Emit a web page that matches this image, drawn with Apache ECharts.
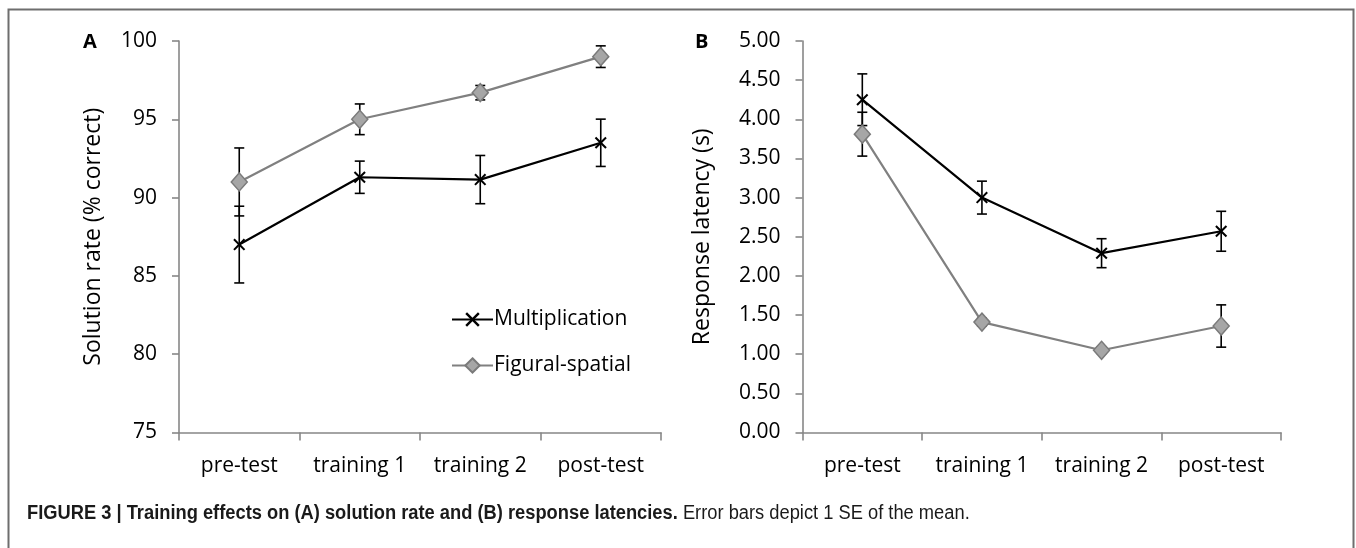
<!DOCTYPE html>
<html>
<head>
<meta charset="utf-8">
<script src="https://cdn.jsdelivr.net/npm/echarts@6/dist/echarts.min.js"></script>
<style>
html,body{margin:0;padding:0;background:#fff;}
#chart{width:1356px;height:548px;}
</style>
</head>
<body>
<div id="chart"></div>
<script>
// ---- data ----
var categories = ['pre-test', 'training 1', 'training 2', 'post-test'];
var seriesNames = ['Multiplication', 'Figural-spatial'];

// Panel A: solution rate (% correct)
var multRate   = [87.0, 91.3, 91.15, 93.5];
var multRateSE = [2.45, 1.03, 1.54, 1.51];
var figRate    = [91.0, 95.0, 96.7, 99.0];
var figRateSE  = [2.17, 0.98, 0.46, 0.69];

// Panel B: response latency (s)
var multLat    = [4.25, 3.0, 2.29, 2.57];
var multLatSE  = [0.33, 0.21, 0.185, 0.255];
var figLat     = [3.81, 1.41, 1.05, 1.36];
var figLatSE   = [0.28, 0.05, 0.04, 0.27];

var captionBold = 'FIGURE 3 | Training effects on (A) solution rate and (B) response latencies.';
var captionRest = ' Error bars depict 1 SE of the mean.';

// ---- helpers ----
function errData(vals, se) {
  return vals.map(function (v, i) { return [i, v - se[i], v + se[i]]; });
}
function errRender(params, api) {
  var lo = api.coord([api.value(0), api.value(1)]);
  var hi = api.coord([api.value(0), api.value(2)]);
  var w = 5;
  var st = { stroke: '#000', lineWidth: 1.6 };
  return {
    type: 'group',
    children: [
      { type: 'line', shape: { x1: lo[0], y1: lo[1], x2: hi[0], y2: hi[1] }, style: st },
      { type: 'line', shape: { x1: lo[0] - w, y1: lo[1], x2: lo[0] + w, y2: lo[1] }, style: st },
      { type: 'line', shape: { x1: hi[0] - w, y1: hi[1], x2: hi[0] + w, y2: hi[1] }, style: st }
    ]
  };
}

var FONT = '"Open Sans", sans-serif';
var AXIS_COLOR = '#878787';
var X_SYMBOL = 'path://M0,1.2L1.2,0L5,3.8L8.8,0L10,1.2L6.2,5L10,8.8L8.8,10L5,6.2L1.2,10L0,8.8L3.8,5Z';

function xAxisCfg(gi) {
  return {
    type: 'category', gridIndex: gi, data: categories, boundaryGap: true,
    axisLine: { lineStyle: { color: AXIS_COLOR, width: 1.6 } },
    axisTick: { show: true, interval: 0, length: 8, lineStyle: { color: AXIS_COLOR, width: 1.6 } },
    axisLabel: { interval: 0, color: '#000', fontFamily: FONT, fontSize: 21, margin: 23 }
  };
}
function yAxisCfg(gi, min, max, interval, name, gap, fmt) {
  return {
    type: 'value', gridIndex: gi, min: min, max: max, interval: interval,
    name: name, nameLocation: 'middle', nameGap: gap,
    nameTextStyle: { color: '#000', fontFamily: FONT, fontSize: 23 },
    splitLine: { show: false },
    axisLine: { show: true, lineStyle: { color: AXIS_COLOR, width: 1.6 } },
    axisTick: { show: true, length: 7, lineStyle: { color: AXIS_COLOR, width: 1.6 } },
    axisLabel: { color: '#000', fontFamily: FONT, fontSize: 21, margin: 22, formatter: fmt }
  };
}
function lineSeries(name, gi, data, isMult) {
  return {
    name: name, type: 'line', xAxisIndex: gi, yAxisIndex: gi, data: data,
    z: isMult ? 5 : 4,
    symbol: isMult ? X_SYMBOL : 'diamond',
    symbolSize: isMult ? 12 : [16, 18],
    lineStyle: { color: isMult ? '#000' : '#808080', width: 2.2 },
    itemStyle: isMult ? { color: '#000' } : { color: '#a6a6a6', borderColor: '#7a7a7a', borderWidth: 1.5 },
    emphasis: { disabled: true },
    animation: false
  };
}
function errSeries(gi, vals, se) {
  return {
    type: 'custom', xAxisIndex: gi, yAxisIndex: gi, data: errData(vals, se),
    renderItem: errRender, z: 3, silent: true, animation: false
  };
}

var chart = echarts.init(document.getElementById('chart'), null, { renderer: 'canvas' });
chart.setOption({
  backgroundColor: '#fff',
  animation: false,
  grid: [
    { left: 179, top: 41, width: 482, height: 391.5 },
    { left: 802.5, top: 41, width: 478.5, height: 391.5 }
  ],
  xAxis: [xAxisCfg(0), xAxisCfg(1)],
  yAxis: [
    yAxisCfg(0, 75, 100, 5, 'Solution rate (% correct)', 74, function (v) { return String(v); }),
    yAxisCfg(1, 0, 5, 0.5, 'Response latency (s)', 89, function (v) { return v.toFixed(2); })
  ],
  legend: {
    data: seriesNames, orient: 'vertical', left: 446, top: 304,
    itemWidth: 41, itemHeight: 18, itemGap: 25,
    textStyle: { color: '#000', fontFamily: FONT, fontSize: 21, padding: [0, 0, 0, -4] },
    selectedMode: false
  },
  series: [
    errSeries(0, multRate, multRateSE),
    errSeries(0, figRate, figRateSE),
    lineSeries(seriesNames[1], 0, figRate, false),
    lineSeries(seriesNames[0], 0, multRate, true),
    errSeries(1, multLat, multLatSE),
    errSeries(1, figLat, figLatSE),
    lineSeries(seriesNames[1], 1, figLat, false),
    lineSeries(seriesNames[0], 1, multLat, true)
  ],
  graphic: [
    { type: 'rect', shape: { x: 8.5, y: 9.5, width: 1345, height: 700 },
      style: { fill: 'none', stroke: '#6e6e6e', lineWidth: 2 }, silent: true },
    { type: 'text', x: 83, y: 42, style: { text: 'A', font: 'bold 20px "Open Sans", sans-serif', fill: '#000', verticalAlign: 'middle' } },
    { type: 'text', x: 695, y: 42, style: { text: 'B', font: 'bold 20px "Open Sans", sans-serif', fill: '#000', verticalAlign: 'middle' } },
    { type: 'text', x: 27, y: 513, scaleX: 0.915, style: {
        text: '{b|' + captionBold + '}{r|' + captionRest + '}',
        verticalAlign: 'middle',
        rich: {
          b: { fontFamily: '"Liberation Sans", sans-serif', fontWeight: 'bold', fontSize: 20, fill: '#1a1a1a' },
          r: { fontFamily: '"Liberation Sans", sans-serif', fontSize: 20, fill: '#1a1a1a' }
        }
      } }
  ]
});
</script>
</body>
</html>
